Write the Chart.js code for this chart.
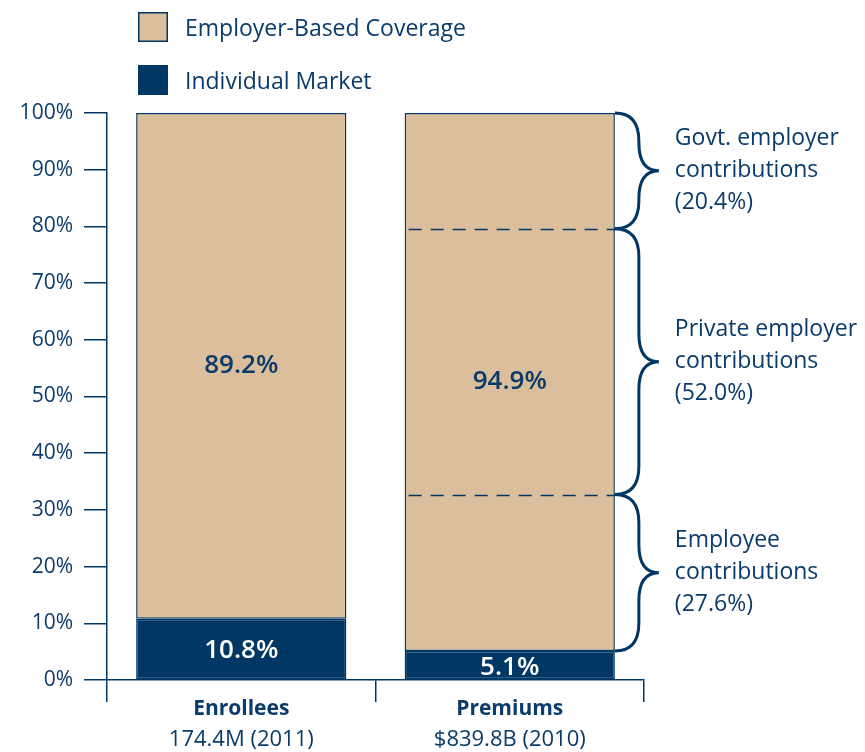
<!DOCTYPE html>
<html>
<head>
<meta charset="utf-8">
<script src="https://cdn.jsdelivr.net/npm/chart.js@4.4.0/dist/chart.umd.min.js"></script>
<style>
  html, body { margin: 0; padding: 0; background: #fff; }
  #wrap { width: 865px; height: 752px; }
</style>
</head>
<body>
<div id="wrap"><canvas id="chart"></canvas></div>
<script>
// data
var categories = ['Enrollees', 'Premiums'];
var subLabels = ['174.4M (2011)', '$839.8B (2010)'];
var individualShare = [10.8, 5.1];
var employerShare = [89.2, 94.9];
var contribNames = [['Employee', 'contributions'], ['Private employer', 'contributions'], ['Govt. employer', 'contributions']];
var contribShares = [27.6, 52.0, 20.4];
var legendNames = ['Employer-Based Coverage', 'Individual Market'];

var NAVY = '#003764';
var TAN = '#dbbf9c';
var TEXT = '#0b3b6a';
var FONT = '"Open Sans", "Noto Sans", sans-serif';

// labels, dashed splits, braces, legend and sub labels
var extras = {
    id: 'extras',
    afterDatasetsDraw: function(chart) {
        var ctx = chart.ctx;
        var y = chart.scales.y;
        var navyMeta = chart.getDatasetMeta(0);
        var tanMeta = chart.getDatasetMeta(1);
        ctx.save();
        ctx.textAlign = 'center';
        ctx.textBaseline = 'middle';
        for (var i = 0; i < categories.length; i++) {
            var t = tanMeta.data[i], n = navyMeta.data[i];
            ctx.font = '600 26px ' + FONT;
            ctx.fillStyle = TEXT;
            ctx.fillText(employerShare[i].toFixed(1) + '%', t.x, (t.y + t.base) / 2);
            ctx.fillStyle = '#fff';
            ctx.fillText(individualShare[i].toFixed(1) + '%', n.x, (n.y + n.base) / 2 + 2);
        }

        // premiums bar split into contributions
        var bar = tanMeta.data[1];
        var left = bar.x - bar.width / 2, right = bar.x + bar.width / 2;
        var bounds = [individualShare[1], individualShare[1] + contribShares[0], 100 - contribShares[2], 100];
        ctx.strokeStyle = NAVY;
        ctx.lineWidth = 1.5;
        ctx.setLineDash([13, 9]);
        [bounds[1], bounds[2]].forEach(function(v) {
            var py = Math.round(y.getPixelForValue(v)) + 0.5;
            ctx.beginPath();
            ctx.moveTo(left + 4, py);
            ctx.lineTo(right, py);
            ctx.stroke();
        });
        ctx.setLineDash([]);

        // curly braces
        ctx.lineWidth = 3;
        var x0 = right, x1 = right + 24, tip = right + 44, r = 28;
        ctx.textAlign = 'left';
        ctx.font = '23px ' + FONT;
        ctx.fillStyle = TEXT;
        for (var k = 0; k < 3; k++) {
            var yb = y.getPixelForValue(bounds[k]);
            var yt = y.getPixelForValue(bounds[k + 1]);
            var ym = (yb + yt) / 2;
            ctx.beginPath();
            ctx.moveTo(x0, yt);
            ctx.quadraticCurveTo(x1, yt, x1, yt + r);
            ctx.lineTo(x1, ym - r);
            ctx.quadraticCurveTo(x1, ym, tip, ym);
            ctx.quadraticCurveTo(x1, ym, x1, ym + r);
            ctx.lineTo(x1, yb - r);
            ctx.quadraticCurveTo(x1, yb, x0, yb);
            ctx.stroke();

            var lines = contribNames[k].concat(['(' + contribShares[k].toFixed(1) + '%)']);
            for (var j = 0; j < lines.length; j++) {
                ctx.fillText(lines[j], right + 60, ym + (j - 1) * 32);
            }
        }
        ctx.restore();
    },
    afterDraw: function(chart) {
        var ctx = chart.ctx;
        var area = chart.chartArea;
        var x = chart.scales.x;
        ctx.save();
        // legend
        var colors = [TAN, NAVY];
        ctx.font = '23px ' + FONT;
        ctx.textBaseline = 'middle';
        ctx.textAlign = 'left';
        for (var i = 0; i < legendNames.length; i++) {
            var by = 12 + i * 53;
            ctx.fillStyle = colors[i];
            ctx.fillRect(area.left + 31, by, 30, 30);
            ctx.strokeStyle = NAVY;
            ctx.lineWidth = 1.5;
            ctx.strokeRect(area.left + 31.75, by + 0.75, 28.5, 28.5);
            ctx.fillStyle = TEXT;
            ctx.fillText(legendNames[i], area.left + 78, by + 17);
        }
        // second line of the category labels
        ctx.textAlign = 'center';
        ctx.font = '22px ' + FONT;
        for (var c = 0; c < subLabels.length; c++) {
            ctx.fillText(subLabels[c], x.getPixelForValue(c), area.bottom + 60);
        }
        ctx.restore();
    }
};

new Chart(document.getElementById('chart'), {
    type: 'bar',
    data: {
        labels: categories,
        datasets: [{
            label: legendNames[1],
            data: individualShare,
            backgroundColor: NAVY,
            borderColor: NAVY,
            borderWidth: 1.5,
            borderSkipped: false
        }, {
            label: legendNames[0],
            data: employerShare,
            backgroundColor: TAN,
            borderColor: NAVY,
            borderWidth: 1.5,
            borderSkipped: false
        }]
    },
    options: {
        responsive: true,
        maintainAspectRatio: false,
        animation: false,
        layout: { padding: { top: 113, right: 221, left: 0, bottom: 0 } },
        barPercentage: 0.783,
        categoryPercentage: 1,
        plugins: { legend: { display: false }, tooltip: { enabled: false } },
        scales: {
            x: {
                stacked: true,
                grid: { offset: true, drawOnChartArea: false, color: NAVY, lineWidth: 1.5, tickLength: 22 },
                border: { color: NAVY, width: 1.5 },
                ticks: { color: TEXT, font: { family: FONT, size: 21, weight: 'bold' }, padding: -6 },
                afterFit: function(s) { s.height = 72; }
            },
            y: {
                stacked: true,
                min: 0,
                max: 100,
                grid: { drawOnChartArea: false, color: NAVY, lineWidth: 1.5, tickLength: 23 },
                border: { color: NAVY, width: 1.5 },
                ticks: {
                    stepSize: 10,
                    color: TEXT,
                    padding: 11,
                    font: { family: FONT, size: 21 },
                    callback: function(v) { return v + '%'; }
                },
                afterFit: function(s) { s.width = 107; }
            }
        }
    },
    plugins: [extras]
});
</script>
</body>
</html>
